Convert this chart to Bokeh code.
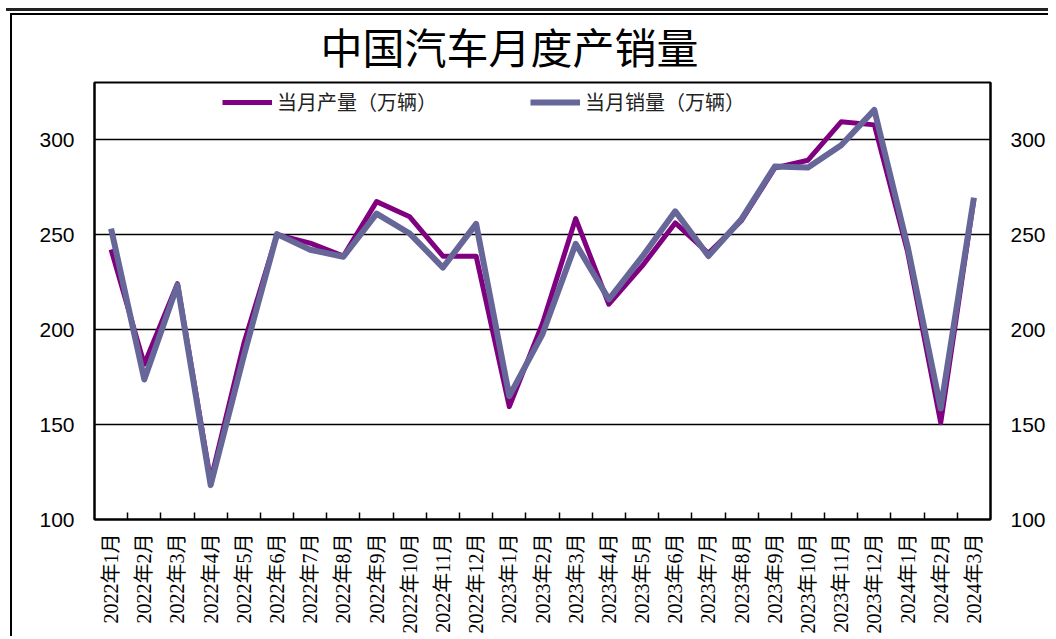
import math
from bokeh.plotting import figure
from bokeh.models import (FixedTicker, LinearAxis, Range1d, Legend, LegendItem,
                          ColumnDataSource)
from bokeh.embed import file_html
from bokeh.resources import INLINE

months = ["2022年1月", "2022年2月", "2022年3月", "2022年4月", "2022年5月", "2022年6月",
          "2022年7月", "2022年8月", "2022年9月", "2022年10月", "2022年11月", "2022年12月",
          "2023年1月", "2023年2月", "2023年3月", "2023年4月", "2023年5月", "2023年6月",
          "2023年7月", "2023年8月", "2023年9月", "2023年10月", "2023年11月", "2023年12月",
          "2024年1月", "2024年2月", "2024年3月"]
production = [242.1, 181.8, 224.1, 120.5, 192.6, 249.9, 245.5, 238.6, 267.3, 259.3, 238.6, 238.6,
              159.4, 203.2, 258.4, 213.3, 233.3, 256.1, 240.1, 257.4, 285.0, 289.1, 309.3, 307.7,
              241.0, 150.9, 268.7]
sales = [253.1, 173.7, 223.4, 118.1, 186.2, 250.2, 242.0, 238.3, 261.0, 250.5, 232.6, 255.6,
         164.9, 197.6, 245.1, 215.9, 238.2, 262.2, 238.7, 258.2, 285.8, 285.3, 297.0, 315.6,
         243.9, 158.4, 269.4]
y_ticks = [100, 150, 200, 250, 300]
legend_labels = ["当月产量（万辆）", "当月销量（万辆）"]
title_text = "中国汽车月度产销量"

n = len(months)
xs = [i + 0.5 for i in range(n)]
src = ColumnDataSource(dict(x=xs, prod=production, sales=sales))

CJK = "Noto Sans CJK SC"

frame_styles = {
    "background-image": ("linear-gradient(#000,#000), linear-gradient(#000,#000), "
                         "linear-gradient(#222,#222)"),
    "background-position": "10px 13px, 10px 13px, 6px 8px",
    "background-size": "2px 100%, 100% 2px, 100% 3px",
    "background-repeat": "no-repeat",
    "background-color": "white",
}

p = figure(frame_width=896, frame_height=437,
           x_range=Range1d(0, n), y_range=Range1d(100, 330),
           output_backend="svg", toolbar_location=None,
           min_border_left=94, min_border_right=52, min_border_top=82, min_border_bottom=112,
           background_fill_color="white", border_fill_alpha=0,
           outline_line_color="black", outline_line_width=2,
           styles=frame_styles)

p.xgrid.visible = False
p.ygrid.ticker = FixedTicker(ticks=y_ticks[1:])
p.ygrid.grid_line_color = "black"
p.ygrid.grid_line_width = 1.5
p.ygrid.grid_line_alpha = 1.0

def style_y(ax):
    ax.ticker = FixedTicker(ticks=y_ticks)
    ax.major_tick_in = 0
    ax.major_tick_out = 0
    ax.minor_tick_in = 0
    ax.minor_tick_out = 0
    ax.axis_line_color = "black"
    ax.axis_line_width = 2
    ax.major_label_standoff = 20
    ax.major_label_text_font = "Liberation Sans"
    ax.major_label_text_font_size = "21px"
    ax.major_label_text_color = "black"

style_y(p.yaxis[0])
right_ax = LinearAxis()
style_y(right_ax)
p.add_layout(right_ax, "right")

xa = p.xaxis[0]
xa.ticker = FixedTicker(ticks=xs, minor_ticks=list(range(1, n)))
xa.major_label_overrides = {x: m for x, m in zip(xs, months)}
xa.major_tick_in = 0
xa.major_tick_out = 0
xa.minor_tick_in = 7
xa.minor_tick_out = 0
xa.minor_tick_line_color = "black"
xa.minor_tick_line_width = 1.5
xa.axis_line_color = "black"
xa.axis_line_width = 2
xa.major_label_orientation = math.pi / 2
xa.major_label_standoff = 14
xa.major_label_text_font = "Liberation Serif, " + CJK
xa.major_label_text_font_size = "20px"
xa.major_label_text_color = "black"

r1 = p.line("x", "prod", source=src, line_color="#800080", line_width=5, line_join="round")
r2 = p.line("x", "sales", source=src, line_color="#666699", line_width=6, line_join="round")

legend = Legend(items=[LegendItem(label=legend_labels[0], renderers=[r1]),
                       LegendItem(label=legend_labels[1], renderers=[r2])],
                orientation="horizontal", location=(128, 403),
                glyph_width=50, glyph_height=20, label_width=253, spacing=0,
                padding=0, margin=0, border_line_color=None, background_fill_alpha=0,
                label_text_font=CJK, label_text_font_size="20px", label_standoff=5,
                label_text_color="#222222")
p.add_layout(legend)

p.title.text = title_text
p.title.align = "left"
p.title.offset = 226
p.title.text_font = CJK
p.title.text_font_size = "42px"
p.title.text_font_style = "normal"
p.title.text_color = "black"
p.title.standoff = 13

open("out.html", "w").write(file_html(p, INLINE))
